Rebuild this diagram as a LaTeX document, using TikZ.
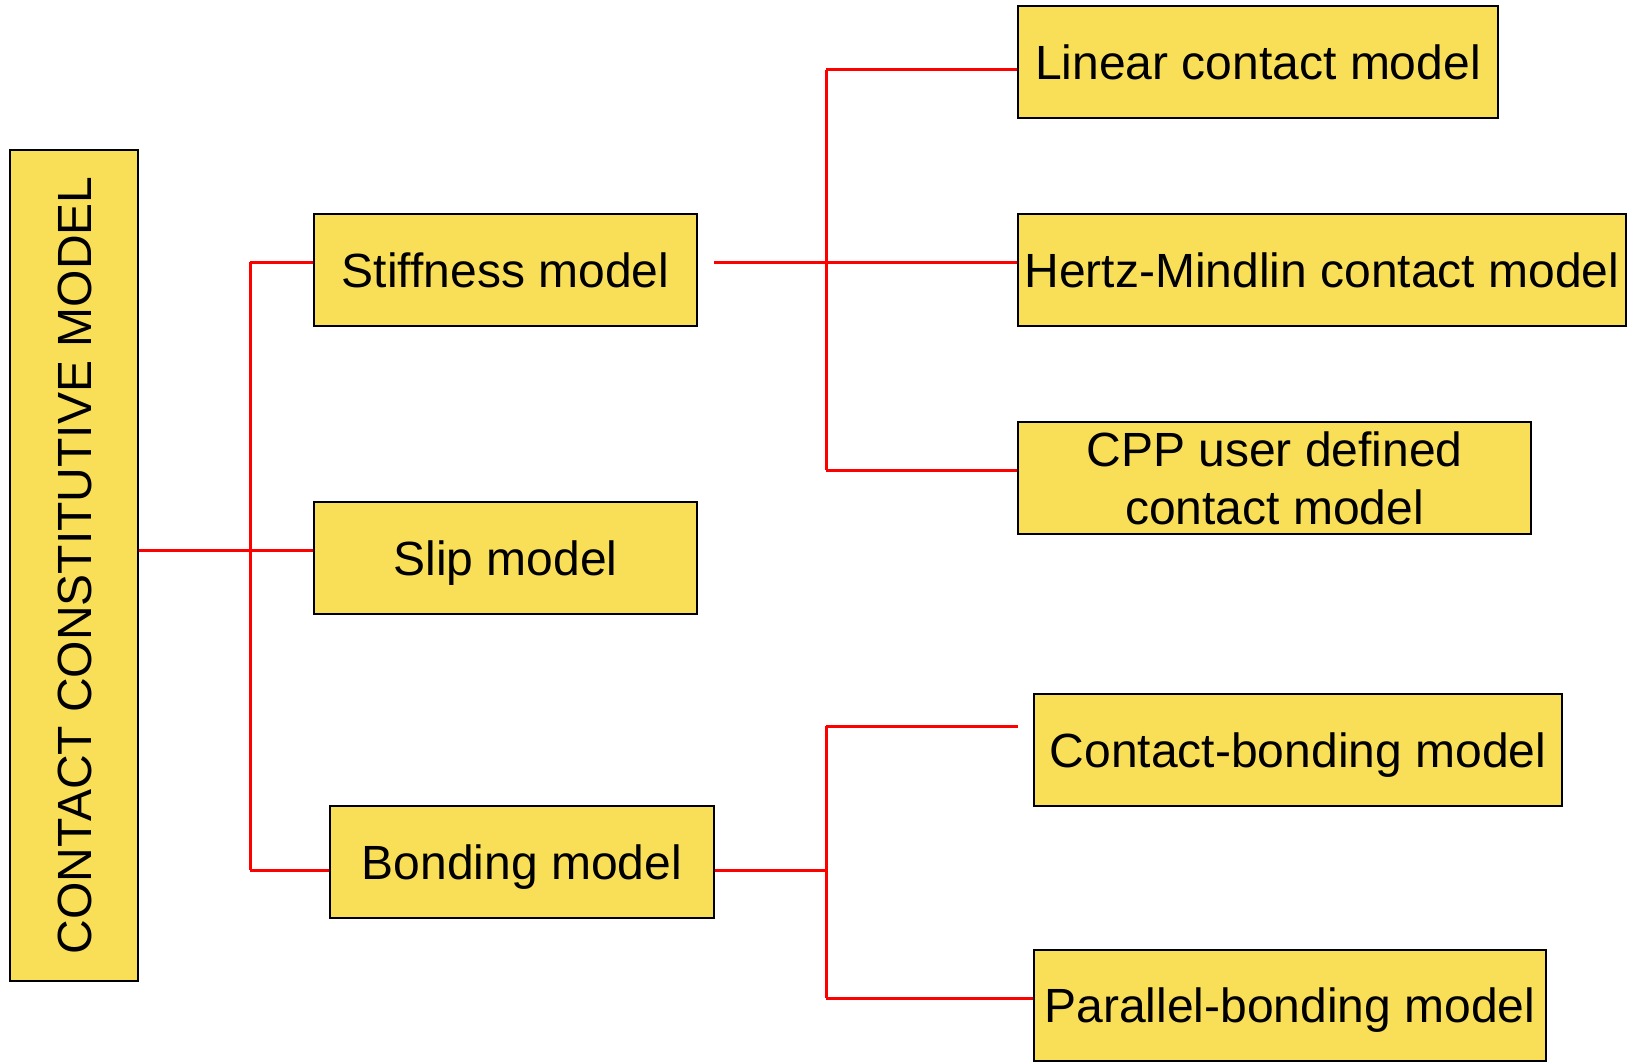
\documentclass[tikz,border=0pt]{standalone}
\usepackage{fontspec}
\setmainfont{Liberation Sans}
\definecolor{boxfill}{HTML}{F9DF57}
\definecolor{linkred}{HTML}{FF0000}
\begin{document}
\begin{tikzpicture}[x=1pt,y=-1pt,
  box/.style={draw=black,line width=2.4pt,fill=boxfill,rectangle,inner sep=0pt,
    font=\fontsize{48}{58}\selectfont,align=center},
  oneline/.style={box,text height=34.5pt,text depth=0pt},
  link/.style={draw=linkred,line width=3pt}]
\useasboundingbox (0,0) rectangle (1637,1062);
% nodes
\node[oneline,minimum width=831pt,minimum height=128pt,rotate=90] (main) at (74,565.5) {CONTACT CONSTITUTIVE MODEL};
\node[oneline,minimum width=383pt,minimum height=112pt] (stiff) at (505.5,270) {Stiffness model};
\node[oneline,minimum width=383pt,minimum height=112pt] (slip) at (505.5,558) {Slip model};
\node[oneline,minimum width=384pt,minimum height=112pt] (bond) at (522,862) {Bonding model};
\node[oneline,minimum width=480pt,minimum height=112pt] (linear) at (1258,62) {Linear contact model};
\node[oneline,minimum width=608pt,minimum height=112pt] (hertz) at (1322,270) {Hertz-Mindlin contact model};
\node[box,minimum width=513pt,minimum height=112pt] (cpp) at (1274.5,478) {CPP user defined\\contact model};
\node[oneline,minimum width=528pt,minimum height=112pt] (cb) at (1298,750) {Contact-bonding model};
\node[oneline,minimum width=512pt,minimum height=111pt] (par) at (1290,1005.5) {Parallel-bonding model};
% junction coordinates
\coordinate (j1top) at (250,262);
\coordinate (j1bot) at (250,870);
\coordinate (j1mid) at (250,550);
\coordinate (j2top) at (826,70);
\coordinate (j2bot) at (826,470);
\coordinate (sfree) at (714,262);
\coordinate (j3top) at (826,726);
\coordinate (j3mid) at (826,870);
\coordinate (j3bot) at (826,998);
\coordinate (cbfree) at (1018,726);
% connectors
\draw[link] (main.south |- j1mid) -- (slip.west |- j1mid);
\draw[link] (j1top) -- (j1bot);
\draw[link] (j1top) -- (stiff.west |- j1top);
\draw[link] (j1bot) -- (bond.west |- j1bot);
\draw[link] (sfree) -- (hertz.west |- sfree);
\draw[link] (j2top) -- (j2bot);
\draw[link] (j2top) -- (linear.west |- j2top);
\draw[link] (j2bot) -- (cpp.west |- j2bot);
\draw[link] (bond.east |- j3mid) -- (j3mid);
\draw[link] (j3top) -- (j3bot);
\draw[link] (j3top) -- (cbfree);
\draw[link] (j3bot) -- (par.west |- j3bot);
\end{tikzpicture}
\end{document}
